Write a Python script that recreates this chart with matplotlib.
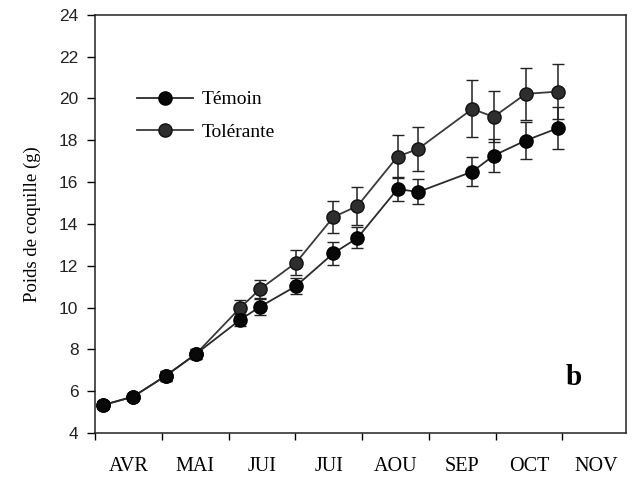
import matplotlib.pyplot as plt
from matplotlib.lines import Line2D
import numpy as np

# sampling dates, in months from the start of April
dates = [0.12, 0.57, 1.06, 1.51, 2.17, 2.47, 3.01, 3.57, 3.93,
         4.53, 4.84, 5.65, 5.97, 6.45, 6.94]

temoin = [5.34, 5.74, 6.74, 7.78, 9.41, 10.04, 11.03, 12.6, 13.33,
          15.67, 15.53, 16.5, 17.27, 17.99, 18.59]
temoin_err = [0.2, 0.15, 0.25, 0.25, 0.3, 0.38, 0.4, 0.56, 0.5,
              0.56, 0.6, 0.68, 0.8, 0.9, 1.0]

tolerante = [5.34, 5.74, 6.74, 7.78, 9.98, 10.88, 12.15, 14.33, 14.86,
             17.22, 17.59, 19.5, 19.12, 20.22, 20.33]
tolerante_err = [0.2, 0.15, 0.25, 0.25, 0.4, 0.43, 0.6, 0.77, 0.9,
                 1.04, 1.05, 1.36, 1.22, 1.25, 1.32]

months = ["AVR", "MAI", "JUI", "JUI", "AOU", "SEP", "OCT", "NOV"]

serif = "Liberation Serif"
sans = "Liberation Sans"

tol_style = dict(color="#3a3a3a", lw=1.3, marker="o", ms=9.5,
                 mfc="#2e2e2e", mec="#111111", mew=1.0)
tem_style = dict(color="#2a2a2a", lw=1.3, marker="o", ms=9.5,
                 mfc="#080808", mec="#000000", mew=1.0)

fig = plt.figure(figsize=(6.38, 4.78), dpi=100)
ax = fig.add_axes([0.149, 0.094, 0.832, 0.875])

ax.errorbar(dates, tolerante, yerr=tolerante_err, ecolor="#222222",
            elinewidth=1.1, capsize=4, capthick=1.1, zorder=3, **tol_style)
ax.errorbar(dates, temoin, yerr=temoin_err, ecolor="#222222",
            elinewidth=1.1, capsize=4, capthick=1.1, zorder=4, **tem_style)

ax.set_xlim(0, 7.95)
ax.set_ylim(4, 24)
ax.set_yticks(np.arange(4, 25, 2))
ax.set_xticks(np.arange(0, 8))
ax.set_xticklabels([])
ax.set_xticks(np.arange(0.5, 8, 1), minor=True)
ax.set_xticklabels(months, minor=True, fontfamily=serif, fontsize=14.5)
ax.tick_params(axis="x", which="major", direction="out", length=5, width=1)
ax.tick_params(axis="x", which="minor", length=0, pad=17)
ax.tick_params(axis="y", direction="out", length=6, width=1, labelsize=12.5, pad=6)
for lbl in ax.get_yticklabels():
    lbl.set_fontfamily(sans)
    lbl.set_color("#222222")

for sp in ax.spines.values():
    sp.set_linewidth(1.1)
    sp.set_color("#222222")

ax.set_ylabel("Poids de coquille (g)", fontfamily=serif, fontsize=13.5, labelpad=13)

handles = [Line2D([], [], **tem_style), Line2D([], [], **tol_style)]
ax.legend(handles, ["Témoin", "Tolérante"], loc="upper left",
          bbox_to_anchor=(0.046, 0.86), frameon=False,
          prop={"family": serif, "size": 14}, handlelength=2.9,
          handletextpad=0.45, labelspacing=0.75)

ax.text(0.886, 0.115, "b", transform=ax.transAxes, fontfamily=serif,
        fontsize=21, fontweight="bold")

fig.savefig("out.png", dpi=100)
